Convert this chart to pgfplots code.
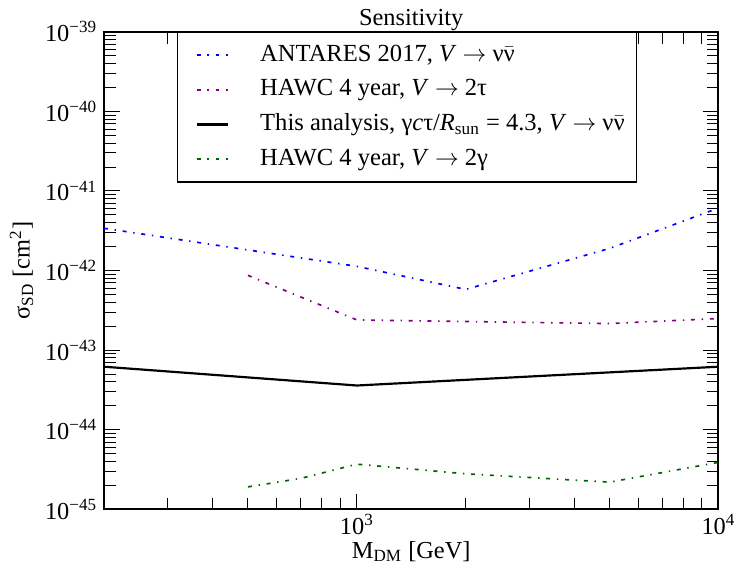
\documentclass[border=0pt]{standalone}
\usepackage{fontspec}
\setmainfont{Liberation Serif}
\usepackage{pgfplots}
\pgfplotsset{compat=1.18}
\definecolor{hawcpurple}{RGB}{128,0,128}
\definecolor{hawcgreen}{RGB}{0,100,0}
\begin{document}
\begin{tikzpicture}
\begin{axis}[name=ax,
  font=\fontsize{12.3}{14.5}\selectfont,
  tick label style={font=\fontsize{12.3}{14.5}\selectfont},
  xmode=log, ymode=log,
  scale only axis, width=310pt, height=241pt,
  xmin=200, xmax=10000, ymin=1e-45, ymax=1e-39,
  axis line style={line width=1pt},
  tick style={line width=0.5pt, black},
  tick align=inside,
  major tick length=8pt, minor tick length=6pt,
  xtick={1000,10000},
  xticklabels={10\textsuperscript{3},10\textsuperscript{4}},
  xticklabel style={yshift=1pt},
  minor xtick={300,400,500,600,700,800,900,2000,3000,4000,5000,6000,7000,8000,9000},
  ytick={1e-45,1e-44,1e-43,1e-42,1e-41,1e-40,1e-39},
  yticklabels={10\textsuperscript{−45},10\textsuperscript{−44},10\textsuperscript{−43},10\textsuperscript{−42},10\textsuperscript{−41},10\textsuperscript{−40},10\textsuperscript{−39}},
  minor ytick={2e-45,3e-45,4e-45,5e-45,6e-45,7e-45,8e-45,9e-45,
               2e-44,3e-44,4e-44,5e-44,6e-44,7e-44,8e-44,9e-44,
               2e-43,3e-43,4e-43,5e-43,6e-43,7e-43,8e-43,9e-43,
               2e-42,3e-42,4e-42,5e-42,6e-42,7e-42,8e-42,9e-42,
               2e-41,3e-41,4e-41,5e-41,6e-41,7e-41,8e-41,9e-41,
               2e-40,3e-40,4e-40,5e-40,6e-40,7e-40,8e-40,9e-40},
  xlabel={M\textsubscript{DM} [GeV]},
  ylabel={σ\textsubscript{SD} [cm\textsuperscript{2}]},
  xlabel style={yshift=3.5pt},
  ylabel style={yshift=-1pt},
  title={Sensitivity},
  title style={yshift=-9pt},
  legend cell align=left,
  legend style={at={(0.119,1)}, anchor=north west, draw=black, line width=0.6pt,
    font=\fontsize{12.4}{14.5}\selectfont, row sep=5.5pt, inner xsep=4.5pt, inner ysep=5.5pt,
    nodes={inner xsep=1.5pt, inner ysep=0pt, text height=9pt, text depth=3pt},
    /tikz/every odd column/.append style={column sep=14pt}},
  legend image code/.code={\path (0pt,0pt); \draw[#1] (4.5pt,0pt) -- (20.5pt,0pt);},
]
\addplot[blue, line width=0.85pt, dash pattern=on 2pt off 3.4pt on 0.7pt off 3.4pt] coordinates {
  (200,3.4e-42) (1000,1.13e-42) (2000,5.8e-43) (5000,1.9e-42) (10000,6.1e-42)};
\addlegendentry{ANTARES 2017, \textit{V} $\rightarrow$ ν$\bar{\mbox{ν}}$}
\addplot[hawcpurple, line width=0.85pt, dash pattern=on 2pt off 3.4pt on 0.7pt off 3.4pt] coordinates {
  (500,8.7e-43) (1000,2.4e-43) (2000,2.29e-43) (5000,2.16e-43) (10000,2.5e-43)};
\addlegendentry{HAWC 4 year, \textit{V} $\rightarrow$ 2τ}
\addplot[black, line width=1.1pt] coordinates {
  (200,6.2e-44) (1000,3.6e-44) (10000,6.2e-44)};
\addlegendentry{This analysis, γ\textit{c}τ/\textit{R}\textsubscript{sun} = 4.3, \textit{V} $\rightarrow$ ν$\bar{\mbox{ν}}$}
\addplot[hawcgreen, line width=0.85pt, dash pattern=on 2pt off 3.4pt on 0.7pt off 3.4pt] coordinates {
  (500,1.92e-45) (700,2.45e-45) (1000,3.7e-45) (2000,2.8e-45) (5000,2.2e-45) (10000,3.9e-45)};
\addlegendentry{HAWC 4 year, \textit{V} $\rightarrow$ 2γ}
\end{axis}
\path ([shift={(-52.5pt,-27pt)}]ax.south west) rectangle ([shift={(8.5pt,16pt)}]ax.north east);
\end{tikzpicture}
\end{document}
